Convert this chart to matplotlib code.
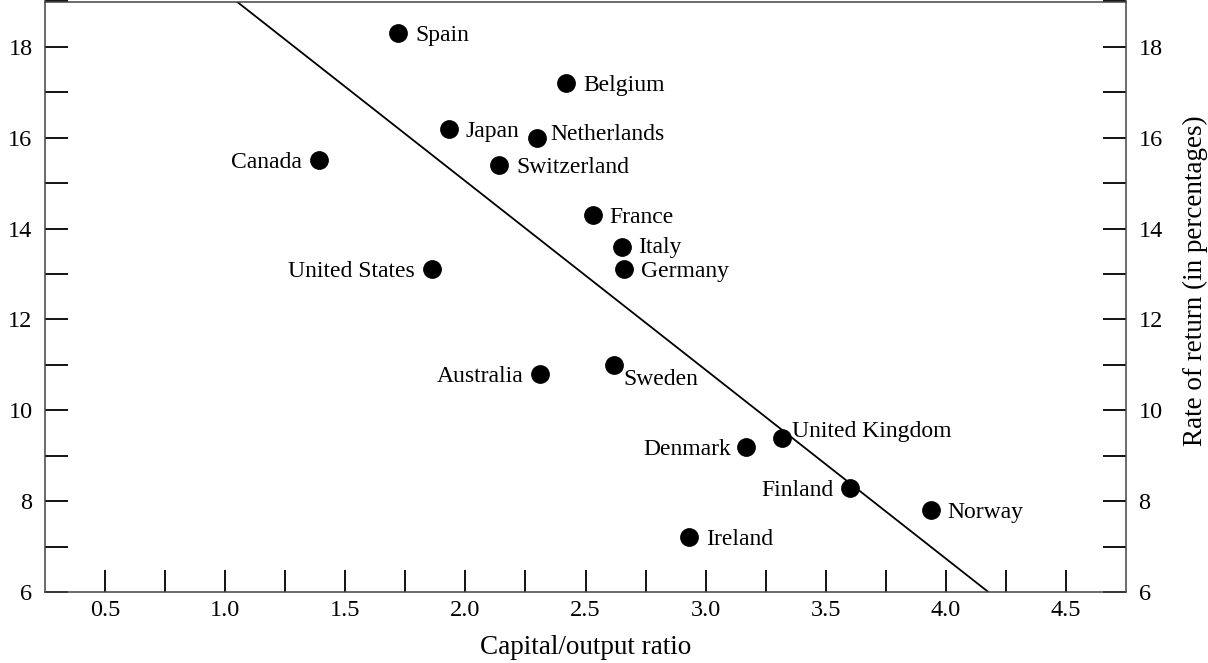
import matplotlib
matplotlib.use("Agg")
import matplotlib.pyplot as plt

plt.rcParams['font.family'] = ['Liberation Serif', 'DejaVu Serif']

countries = ["Spain", "Belgium", "Japan", "Netherlands", "Canada", "Switzerland",
             "France", "Italy", "Germany", "United States", "Australia", "Sweden",
             "United Kingdom", "Denmark", "Finland", "Norway", "Ireland"]
capital_output = [1.72, 2.42, 1.93, 2.30, 1.39, 2.14,
                  2.53, 2.65, 2.66, 1.86, 2.31, 2.62,
                  3.32, 3.17, 3.60, 3.94, 2.93]
rate_of_return = [18.3, 17.2, 16.2, 16.0, 15.5, 15.4,
                  14.3, 13.6, 13.1, 13.1, 10.8, 11.0,
                  9.4, 9.2, 8.3, 7.8, 7.2]

fit_x = [1.048, 4.177]
fit_y = [19.0, 6.0]

x_major = [0.5, 1.0, 1.5, 2.0, 2.5, 3.0, 3.5, 4.0, 4.5]
x_minor = [0.75, 1.25, 1.75, 2.25, 2.75, 3.25, 3.75, 4.25]
y_major = [6, 8, 10, 12, 14, 16, 18]
y_minor = [7, 9, 11, 13, 15, 17, 19]

# label placement (offset in pixels, alignment)
placement = {
    "Spain": (17, 0, 'left'), "Belgium": (17, 0, 'left'), "Japan": (17, 0, 'left'),
    "Netherlands": (13, 6, 'left'), "Canada": (-17, 0, 'right'),
    "Switzerland": (17, 0, 'left'), "France": (17, 0, 'left'), "Italy": (17, 2, 'left'),
    "Germany": (17, 0, 'left'), "United States": (-17, 0, 'right'),
    "Australia": (-16, 0, 'right'), "Sweden": (9, -12, 'left'),
    "United Kingdom": (10, 9, 'left'), "Denmark": (-15, 0, 'right'),
    "Finland": (-16, 0, 'right'), "Norway": (16, 0, 'left'), "Ireland": (17, 0, 'left'),
}

fig = plt.figure(figsize=(12.08, 6.63), dpi=100)
ax = fig.add_axes([45/1208, 1-592/663, (1126-45)/1208, (592-1.5)/663])

ax.plot(fit_x, fit_y, color='black', lw=1.3, zorder=2)
ax.plot(capital_output, rate_of_return, 'o', color='black', ms=12.5, zorder=3)

px2pt = 72/100
for name, x, y in zip(countries, capital_output, rate_of_return):
    dx, dy, ha = placement[name]
    ax.annotate(name, (x, y), xytext=(dx*px2pt, dy*px2pt), textcoords='offset points',
                ha=ha, va='center_baseline', fontsize=17)

ax.set_xlim(0.25, 4.75)
ax.set_ylim(6, 19)
ax.set_xticks(x_major)
ax.set_xticks(x_minor, minor=True)
ax.set_yticks(y_major)
ax.set_yticks(y_minor, minor=True)
ax.set_xticklabels([f"{v:.1f}" for v in x_major])
ax.set_yticklabels([str(v) for v in y_major])

for which in ('major', 'minor'):
    ax.tick_params(axis='x', which=which, direction='in', length=16, width=1.3,
                   top=False, bottom=True, labelsize=17.5, pad=6, color='black')
    ax.tick_params(axis='y', which=which, direction='in', length=16.5, width=1.3,
                   left=True, right=True, labelleft=True, labelright=True,
                   labelsize=17.5, pad=9, color='black')

for sp in ax.spines.values():
    sp.set_color('#444444')
    sp.set_linewidth(1.1)

fig.text(586/1208, 1-647/663, "Capital/output ratio", ha='center', va='center',
         fontsize=19.5)
fig.text(1195/1208, 1-281/663, "Rate of return (in percentages)", rotation=90,
         ha='center', va='center', fontsize=19.5)

fig.savefig("out.png", dpi=100)
